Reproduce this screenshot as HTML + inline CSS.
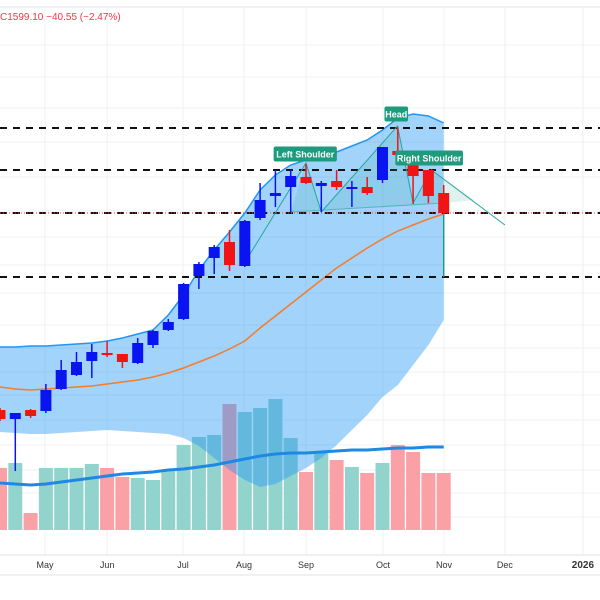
<!DOCTYPE html>
<html><head><meta charset="utf-8"><style>
body{margin:0;background:#fff;width:600px;height:600px;overflow:hidden;font-family:"Liberation Sans",sans-serif}
svg{display:block}
</style></head><body>
<svg id="chart" width="600" height="600" xmlns="http://www.w3.org/2000/svg"></svg>
<script>
const months=["May","Jun","Jul","Aug","Sep","Oct","Nov","Dec","2026"];
const monthIdx=[2.94,7,11.96,15.95,20,25.03,29.02,33,38.1];
const opens=[1205,1187,1205,1203,1247,1275,1303,1319,1317,1299,1335,1365,1387,1473,1509,1541,1493,1589,1633,1651,1671,1653,1663,1647,1651,1665,1723,1709,1685,1639];
const highs=[1209,1199,1207,1257,1305,1321,1337,1343,1317,1349,1365,1387,1459,1501,1535,1565,1585,1659,1685,1685,1697,1663,1685,1663,1671,1731,1771,1711,1685,1655];
const lows=[1183,1083,1189,1199,1245,1273,1269,1311,1289,1297,1329,1363,1385,1447,1477,1483,1491,1585,1611,1601,1657,1601,1645,1611,1635,1659,1715,1617,1619,1597];
const closes=[1187,1199,1193,1245,1285,1301,1321,1317,1301,1339,1363,1381,1457,1497,1531,1495,1583,1625,1639,1673,1659,1659,1651,1651,1639,1731,1715,1673,1633,1599];
const upper=[1331,1331,1333,1333,1335,1337,1339,1343,1349,1357,1365,1395,1435,1485,1525,1561,1599,1645,1675,1695,1705,1713,1721,1733,1745,1765,1789,1797,1793,1779];
const middle=[1251,1247,1245,1247,1249,1251,1253,1257,1261,1265,1271,1279,1289,1301,1313,1327,1343,1369,1393,1417,1441,1465,1489,1509,1529,1547,1563,1575,1587,1597];
const lower=[1161,1159,1157,1157,1159,1161,1163,1165,1163,1161,1159,1157,1149,1133,1109,1085,1065,1051,1057,1073,1089,1109,1135,1165,1195,1231,1255,1295,1335,1385];
const volumes=[124,134,34,124,124,124,132,124,106,104,100,120,170,186,190,252,236,244,262,184,116,156,140,126,114,134,170,156,114,114];
const volMA=[94,92,90,92,96,100,104,108,112,114,116,120,122,126,130,136,142,148,152,154,154,156,158,160,160,162,164,164,166,166];
const levels=[1769,1685,1599,1471];
const patIdx=[15.9,20,21,25.98,27,28.2,33];
const patPrice=[1495,1699,1601,1773,1619,1685,1575];
const labels=["Left Shoulder","Head","Right Shoulder"];
const labelIdx=[19.95,25.9,28.05];
const labelPrice=[1717,1797,1709];

const NS="http://www.w3.org/2000/svg";
const svg=document.getElementById('chart');
const X=i=>i*15.3;
function Yp(p){return (2025-p)/2;}
const VB=530;const VY=v=>VB-v/2;
function el(t,a,parent){const e=document.createElementNS(NS,t);for(const k in a)e.setAttribute(k,a[k]);(parent||svg).appendChild(e);return e;}

let e=el('line',{x1:0,x2:600,y1:7,y2:7,stroke:'#e0e3eb'});

const gy=[45,77,108,142,177,211,237,265,293,325,348,372,395,420,445,470,493,517];
const gridG=el('g',{});

gy.forEach(y=>el('line',{x1:0,x2:600,y1:y,y2:y,stroke:'#eef0f4'},gridG));
monthIdx.forEach(i=>el('line',{x1:X(i),x2:X(i),y1:7,y2:555,stroke:'#eef0f4'},gridG));

const volG=el('g',{});

volumes.forEach((v,i)=>{
  const up=closes[i]>=opens[i]&&!(i===7);
  const b=el('rect',{x:X(i)-7,y:VY(v),width:14,height:VB-VY(v),fill:up?'#93d3cd':'#f9a1a6'},volG);
  
});

let up='',lo='';
upper.forEach((p,i)=>{up+=(i?'L':'M')+X(i)+','+Yp(p);});
for(let i=lower.length-1;i>=0;i--)lo+='L'+X(i)+','+Yp(lower[i]);
e=el('path',{d:up+lo+'Z',fill:'rgba(33,150,243,0.42)',stroke:'none'});

e=el('path',{d:up,fill:'none',stroke:'#2196f3','stroke-width':1.5});

let md='';middle.forEach((p,i)=>{md+=(i?'L':'M')+X(i)+','+Yp(p);});
e=el('path',{d:md,fill:'none',stroke:'#f57c2a','stroke-width':1.5});


let vm='';volMA.forEach((v,i)=>{vm+=(i?'L':'M')+X(i)+','+VY(v);});
e=el('path',{d:vm,fill:'none',stroke:'#1e88e5','stroke-width':3});


levels.forEach((p,k)=>{
  const l=el('line',{x1:0,x2:600,y1:Yp(p),y2:Yp(p),stroke:'#111','stroke-width':2,'stroke-dasharray':'7,6'});
  
});
e=el('line',{x1:0,x2:600,y1:Yp(closes[29]),y2:Yp(closes[29]),stroke:'#f23645','stroke-width':1,'stroke-dasharray':'1,2'});


let pd='';patIdx.forEach((i,k)=>{pd+=(k?'L':'M')+X(i)+','+Yp(patPrice[k]);});
e=el('path',{d:`M${X(19)},${Yp(1601)} L${X(patIdx[1])},${Yp(patPrice[1])} L${X(patIdx[2])},${Yp(patPrice[2])} L${X(patIdx[3])},${Yp(patPrice[3])} L${X(patIdx[4])},${Yp(patPrice[4])} L${X(patIdx[5])},${Yp(patPrice[5])} L${X(31)},${Yp(1625)} L${X(29)},${Yp(1619)}Z`,fill:'rgba(38,166,154,0.15)',stroke:'none'});

e=el('path',{d:pd,fill:'none',stroke:'#26a69a','stroke-width':1});

e=el('line',{x1:X(19),y1:Yp(1601),x2:X(29),y2:Yp(1619),stroke:'#26a69a','stroke-width':1,opacity:0.6});

e=el('line',{x1:X(29),y1:Yp(1599),x2:X(29),y2:Yp(1471),stroke:'#1e9a7d','stroke-width':1.5});


const cG=el('g',{});

opens.forEach((o,i)=>{
  const c=closes[i];const bull=c>o;const col=bull?'#0a14f0':'#f01414';
  const g=el('g',{},cG);
  
  el('line',{x1:X(i),x2:X(i),y1:Yp(highs[i]),y2:Yp(lows[i]),stroke:col,'stroke-width':1.5},g);
  const t=Yp(Math.max(o,c)),h=Math.max(2,Math.abs(Yp(o)-Yp(c)));
  el('rect',{x:X(i)-5.5,y:t,width:11,height:h,fill:col},g);
});

labels.forEach((s,k)=>{
  const cx=X(labelIdx[k]),cy=Yp(labelPrice[k]);
  const w=s.length*4.4+6;
  const g=el('g',{});
  
  el('rect',{x:cx-w/2,y:cy-7.5,width:w,height:15,rx:2,fill:'#1e9a7d'},g);
  const t=el('text',{x:cx,y:cy+3.5,'text-anchor':'middle','font-size':'9',fill:'#fff','font-weight':'bold'},g);
  t.textContent=s;
});

e=el('text',{x:0,y:20,'font-size':'10',fill:'#f23645'});
e.textContent='C1599.10  −40.55 (−2.47%)';


e=el('line',{x1:0,x2:600,y1:555,y2:555,stroke:'#e0e3eb'});

e=el('line',{x1:0,x2:600,y1:575,y2:575,stroke:'#e0e3eb'});

months.forEach((m,k)=>{
  const t=el('text',{x:X(monthIdx[k]),y:568,'text-anchor':'middle','font-size':m==='2026'?'10':'9',fill:'#333','font-weight':m==='2026'?'bold':'normal'});
  t.textContent=m;
  
});
</script>
</body></html>
